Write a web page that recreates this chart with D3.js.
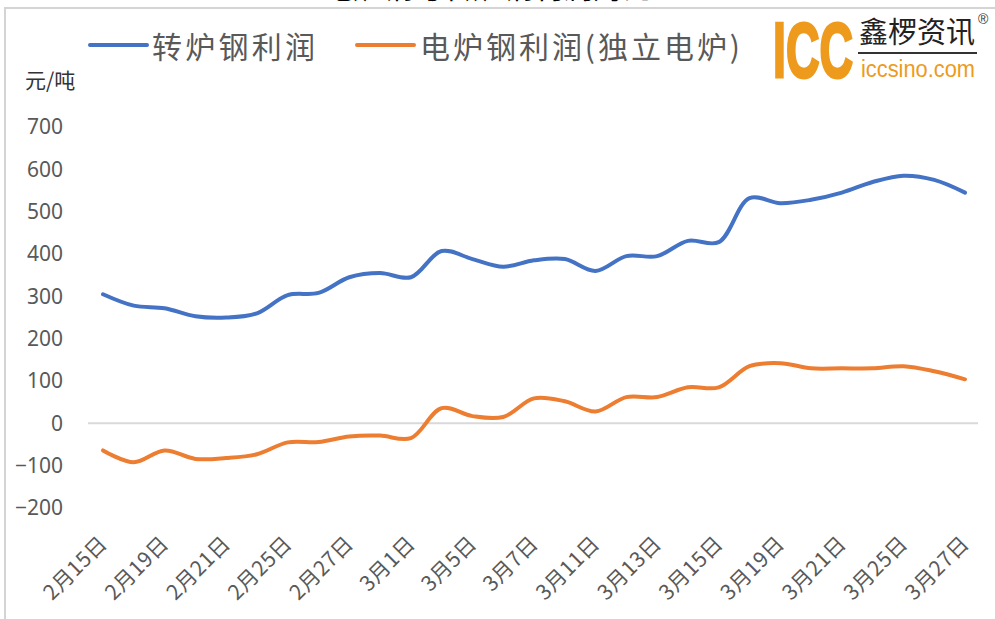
<!DOCTYPE html>
<html>
<head>
<meta charset="utf-8">
<script src="https://cdn.jsdelivr.net/npm/d3@7"></script>
<style>
  body { margin: 0; background: #fff; }
  svg { display: block; }
</style>
</head>
<body>
<svg id="chart" width="995" height="619"></svg>
<script>
// trading days, every other one gets a label (Excel interval = 2)
var dates = ['2月15日','2月18日','2月19日','2月20日','2月21日','2月22日','2月25日','2月26日',
    '2月27日','2月28日','3月1日','3月4日','3月5日','3月6日','3月7日','3月8日','3月11日',
    '3月12日','3月13日','3月14日','3月15日','3月18日','3月19日','3月20日','3月21日',
    '3月22日','3月25日','3月26日','3月27日'];
var tickEvery = 2;

var seriesNames = ['转炉钢利润', '电炉钢利润(独立电炉)'];
var bofProfit = [305,278,272,253,250,260,303,308,345,355,345,407,388,370,385,388,360,395,
    395,431,428,532,520,528,545,570,585,575,545];
var eafProfit = [-64,-92,-64,-84,-82,-73,-45,-44,-31,-29,-35,36,17,15,59,52,28,62,
    62,85,85,135,142,130,130,130,135,123,104];
var yTicks = [-200,-100,0,100,200,300,400,500,600,700];
var colors = ['#4472C4', '#ED7D31'];

var svg = d3.select('#chart');

// frame of the pasted picture (cut on the right/bottom)
svg.append('rect')
    .attr('x', 5).attr('y', 8)
    .attr('width', 1000).attr('height', 700)
    .attr('fill', 'none')
    .attr('stroke', '#d4d4d4')
    .attr('stroke-width', 2);

// title, mostly cropped off the top
svg.append('text')
    .attr('x', 488).attr('y', -2)
    .attr('text-anchor', 'middle')
    .style('font-family', '"Noto Sans CJK SC"')
    .style('font-size', '30px')
    .attr('fill', '#000')
    .text('电炉钢与转炉钢利润对比');

var x = d3.scalePoint().domain(dates).range([103, 965]);
var y = d3.scaleLinear().domain([-200, 700]).range([508, 127]);

// y axis labels
var yAxis = svg.append('g')
    .attr('transform', 'translate(88,0)')
    .call(d3.axisLeft(y).tickValues(yTicks).tickSize(0).tickPadding(25));
yAxis.select('.domain').remove();
yAxis.selectAll('text')
    .style('font-family', '"Noto Sans", sans-serif')
    .style('font-size', '21px')
    .attr('fill', '#595959');

// zero line only
svg.append('line')
    .attr('x1', 88).attr('x2', 978)
    .attr('y1', y(0)).attr('y2', y(0))
    .attr('stroke', '#d9d9d9')
    .attr('stroke-width', 2);

// x axis labels, rotated
var xAxis = svg.append('g')
    .attr('transform', 'translate(0,545)')
    .call(d3.axisBottom(x)
        .tickValues(dates.filter(function(d, i){ return i % tickEvery === 0; }))
        .tickSize(0));
xAxis.select('.domain').remove();
xAxis.selectAll('text')
    .attr('y', 0).attr('dy', 0).attr('x', 0)
    .attr('text-anchor', 'end')
    .attr('transform', 'translate(5,0) rotate(-45)')
    .style('font-family', '"Noto Sans CJK SC"')
    .style('font-size', '21px')
    .style('letter-spacing', '0.5px')
    .attr('fill', '#595959');

// lines (Excel smoothed)
var line = d3.line()
    .x(function(d, i){ return x(dates[i]); })
    .y(function(d){ return y(d); })
    .curve(d3.curveCatmullRom.alpha(0.5));

[bofProfit, eafProfit].forEach(function(s, k){
    svg.append('path')
        .datum(s)
        .attr('d', line)
        .attr('fill', 'none')
        .attr('stroke', colors[k])
        .attr('stroke-width', 4)
        .attr('stroke-linecap', 'round');
});

// legend
var legendPos = [{lx: 90, tx: 152, len: 163}, {lx: 357, tx: 420, len: 320}];
seriesNames.forEach(function(name, k){
    var p = legendPos[k];
    svg.append('line')
        .attr('x1', p.lx).attr('x2', p.lx + 57)
        .attr('y1', 45).attr('y2', 45)
        .attr('stroke', colors[k])
        .attr('stroke-width', 4)
        .attr('stroke-linecap', 'round');
    svg.append('text')
        .attr('x', p.tx).attr('y', 58)
        .attr('textLength', p.len)
        .style('font-family', '"Noto Sans CJK SC"')
        .style('font-size', '30px')
        .attr('fill', '#595959')
        .text(name);
});

// unit
svg.append('text')
    .attr('x', 25).attr('y', 88)
    .style('font-family', '"Noto Sans CJK SC"')
    .style('font-size', '21px')
    .attr('fill', '#333')
    .text('元/吨');

// logo
var logo = svg.append('g');
logo.append('text')
    .attr('x', 773).attr('y', 77)
    .attr('textLength', 80)
    .attr('lengthAdjust', 'spacingAndGlyphs')
    .style('font-family', '"Liberation Sans Narrow", "Liberation Sans"')
    .style('font-weight', 'bold')
    .style('font-size', '78px')
    .attr('fill', '#EE9A1C')
    .attr('stroke', '#EE9A1C')
    .attr('stroke-width', 3)
    .text('ICC');
logo.append('text')
    .attr('x', 859).attr('y', 43)
    .attr('textLength', 116)
    .attr('lengthAdjust', 'spacingAndGlyphs')
    .style('font-family', '"Noto Sans CJK SC"')
    .style('font-size', '29px')
    .attr('fill', '#222')
    .text('鑫椤资讯');
logo.append('line')
    .attr('x1', 858).attr('x2', 977)
    .attr('y1', 53).attr('y2', 53)
    .attr('stroke', '#333')
    .attr('stroke-width', 2);
logo.append('text')
    .attr('x', 861).attr('y', 77)
    .attr('textLength', 114)
    .attr('lengthAdjust', 'spacingAndGlyphs')
    .style('font-family', '"Liberation Sans"')
    .style('font-size', '23px')
    .attr('fill', '#EE9A1C')
    .text('iccsino.com');
logo.append('text')
    .attr('x', 978).attr('y', 24)
    .style('font-family', '"Liberation Sans"')
    .style('font-size', '14px')
    .attr('fill', '#333')
    .text('®');
</script>
</body>
</html>
